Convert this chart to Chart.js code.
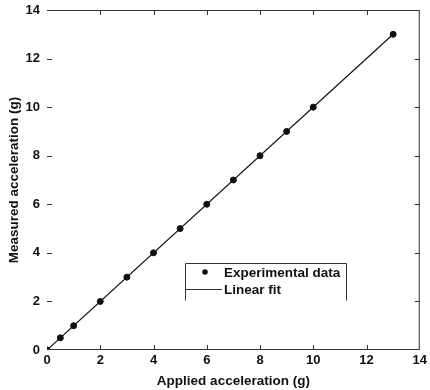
<!DOCTYPE html>
<html>
<head>
<meta charset="utf-8">
<script src="https://cdn.jsdelivr.net/npm/chart.js@4/dist/chart.umd.min.js"></script>
<style>
  html, body { margin: 0; padding: 0; background: #fff; }
  #wrap { width: 430px; height: 390px; }
</style>
</head>
<body>
<div id="wrap"><canvas id="accChart" width="430" height="390"></canvas></div>
<script>
// data
var appliedG  = [0, 0.5, 1, 2, 3, 4, 5, 6, 7, 8, 9, 10, 13];
var measuredG = [0, 0.5, 1, 2, 3, 4, 5, 6, 7, 8, 9, 10, 13];
var fitX = [0, 13];
var fitY = [0, 13];
var tickValues = [0, 2, 4, 6, 8, 10, 12, 14];

var FONT = "'Liberation Sans', Arial, sans-serif";
var INK = "#111";

// box frame (top/right), inward ticks and the legend box
var framePlugin = {
    id: "frame",
    afterDraw: function (chart) {
        var c = chart.ctx, a = chart.chartArea;
        var xs = chart.scales.x, ys = chart.scales.y;
        c.save();
        c.strokeStyle = "#333";
        c.lineWidth = 1;
        c.beginPath();
        c.moveTo(a.left, a.top + 0.5); c.lineTo(a.right, a.top + 0.5);
        c.moveTo(a.right - 0.5, a.top); c.lineTo(a.right - 0.5, a.bottom);
        c.moveTo(a.left, a.bottom - 0.5); c.lineTo(a.right, a.bottom - 0.5);
        tickValues.forEach(function (v) {
            var px = Math.round(xs.getPixelForValue(v)) + 0.5;
            var py = Math.round(ys.getPixelForValue(v)) + 0.5;
            if (v > 0 && v < 14) {
                c.moveTo(px, a.bottom); c.lineTo(px, a.bottom - 5);
                c.moveTo(px, a.top); c.lineTo(px, a.top + 5);
                c.moveTo(a.left, py); c.lineTo(a.left + 5, py);
                c.moveTo(a.right, py); c.lineTo(a.right - 5, py);
            }
        });
        c.stroke();

        // legend box (open at the bottom)
        var bx = 185.5, by = 263.5, bw = 161, bh = 37;
        c.beginPath();
        c.moveTo(bx, by + bh); c.lineTo(bx, by); c.lineTo(bx + bw, by); c.lineTo(bx + bw, by + bh);
        c.stroke();
        c.fillStyle = INK;
        c.beginPath();
        c.arc(205, 272, 2.8, 0, Math.PI * 2);
        c.fill();
        c.beginPath();
        c.moveTo(186, 289.5); c.lineTo(222, 289.5);
        c.stroke();
        c.font = "bold 13.5px " + FONT;
        c.textBaseline = "middle";
        c.fillText("Experimental data", 224, 273);
        c.fillText("Linear fit", 224, 290);
        c.restore();
    }
};

var ctx = document.getElementById("accChart");
if (ctx) {
    new Chart(ctx, {
        type: "scatter",
        data: {
            datasets: [
                {
                    label: "Experimental data",
                    data: appliedG.map(function (x, i) { return { x: x, y: measuredG[i] }; }),
                    backgroundColor: INK,
                    borderColor: INK,
                    pointRadius: 3,
                    showLine: false
                },
                {
                    label: "Linear fit",
                    data: fitX.map(function (x, i) { return { x: x, y: fitY[i] }; }),
                    borderColor: INK,
                    borderWidth: 1.2,
                    pointRadius: 0,
                    showLine: true
                }
            ]
        },
        options: {
            responsive: false,
            animation: false,
            layout: { padding: { top: 10, right: 6, left: 0, bottom: 0 } },
            plugins: { legend: { display: false }, tooltip: { enabled: false } },
            scales: {
                x: {
                    type: "linear",
                    min: 0, max: 14,
                    afterBuildTicks: function (s) { s.ticks = tickValues.map(function (v) { return { value: v }; }); },
                    afterFit: function (s) { s.height = 40; },
                    grid: { display: false, drawTicks: false },
                    border: { display: false },
                    ticks: { color: INK, padding: 3, font: { family: FONT, size: 13, weight: "bold" }, maxRotation: 0 },
                    title: { display: true, text: "Applied acceleration (g)", color: INK, padding: { top: 0, bottom: 1 },
                             font: { family: FONT, size: 13.5, weight: "bold" } }
                },
                y: {
                    type: "linear",
                    min: 0, max: 14,
                    afterBuildTicks: function (s) { s.ticks = tickValues.map(function (v) { return { value: v }; }); },
                    afterFit: function (s) { s.width = 47; s.paddingTop = 0; s.paddingBottom = 0; },
                    grid: { display: false, drawTicks: false },
                    border: { display: false },
                    ticks: { color: INK, padding: 7, font: { family: FONT, size: 13, weight: "bold" } },
                    title: { display: true, text: "Measured acceleration (g)", color: INK, padding: { top: 6, bottom: 2 },
                             font: { family: FONT, size: 13.5, weight: "bold" } }
                }
            }
        },
        plugins: [framePlugin]
    });
}
</script>
</body>
</html>
